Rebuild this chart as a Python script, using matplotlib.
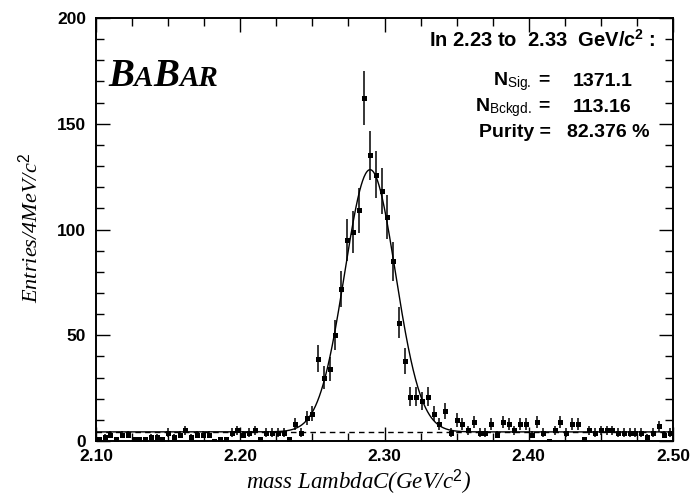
import numpy as np
import matplotlib.pyplot as plt
from matplotlib.ticker import MultipleLocator
from matplotlib.offsetbox import TextArea, HPacker, AnnotationBbox

plt.rcParams['mathtext.fontset'] = 'custom'
plt.rcParams['mathtext.it'] = 'Liberation Serif:italic'
plt.rcParams['mathtext.rm'] = 'Liberation Sans'
plt.rcParams['mathtext.bf'] = 'Liberation Sans:bold'

# histogram: 100 bins of 4 MeV between 2.10 and 2.50 GeV
x_lo, x_hi = 2.10, 2.50
n_bins = 100
counts = [1, 2, 3, 1, 3, 3, 1, 1, 1, 2,
          2, 1, 4, 2, 3, 5, 2, 3, 3, 3,
          0, 1, 1, 4, 5, 3, 4, 5, 1, 4,
          4, 4, 4, 1, 8, 4, 11, 13, 39, 30,
          34, 50, 72, 95, 99, 109, 162, 135, 126, 118,
          106, 85, 56, 38, 21, 21, 19, 21, 13, 8,
          14, 4, 10, 8, 5, 9, 4, 4, 8, 3,
          9, 8, 5, 8, 8, 3, 9, 4, 0, 5,
          9, 4, 8, 8, 1, 5, 4, 5, 5, 5,
          4, 4, 4, 4, 4, 2, 4, 7, 3, 4]

# fit result: gaussian on a flat background
fit_mean = 2.2900
fit_sigma = 0.0176
fit_amp = 124.0
fit_bkg = 4.3

x_ticks = [2.10, 2.20, 2.30, 2.40, 2.50]
x_ticklabels = ['2.10', '2.20', '2.30', '2.40', '2.50']
y_ticks = [0, 50, 100, 150, 200]

range_text = 'In 2.23 to  2.33  GeV/c$^{\\mathbf{2}}$ :'
info_names = ['N$_{\\mathrm{Sig.}}$ =', 'N$_{\\mathrm{Bckgd.}}$ =', 'Purity =']
info_values = ['1371.1', '113.16', '82.376 %']
info_x = [573, 573, 567]


fig = plt.figure(figsize=(6.93, 4.96), dpi=100)
ax = fig.add_axes([96 / 693, 55 / 496, 577 / 693, 423 / 496])

edges = np.linspace(x_lo, x_hi, n_bins + 1)
centers = 0.5 * (edges[:-1] + edges[1:])
counts = np.array(counts, dtype=float)

ax.errorbar(centers, counts, yerr=np.sqrt(counts), fmt='s', ms=3.6, mew=0,
            color='black', ecolor='black', elinewidth=1.1, capsize=0, zorder=3)

xf = np.linspace(x_lo, x_hi, 1200)
yf = fit_bkg + fit_amp * np.exp(-0.5 * ((xf - fit_mean) / fit_sigma) ** 2)
ax.plot([x_lo, x_hi], [fit_bkg, fit_bkg], color='black', lw=1.0, ls=(0, (4, 3)))
ax.plot(xf, yf, color='black', lw=1.0)

ax.set_xlim(x_lo, x_hi)
ax.set_ylim(0, 200)
ax.set_xticks(x_ticks)
ax.set_xticklabels(x_ticklabels)
ax.set_yticks(y_ticks)
ax.xaxis.set_minor_locator(MultipleLocator(0.025))
ax.yaxis.set_minor_locator(MultipleLocator(10))
ax.tick_params(which='both', direction='in', top=True, right=True, width=1.0)
ax.tick_params(which='major', length=10)
ax.tick_params(which='minor', length=6)
ax.tick_params(axis='y', labelsize=12.5, pad=7)
ax.tick_params(axis='x', labelsize=12.5, pad=6)
for lab in ax.get_xticklabels() + ax.get_yticklabels():
    lab.set_fontfamily('Liberation Sans')
    lab.set_fontweight('bold')
for sp in ax.spines.values():
    sp.set_linewidth(1.4)

# axis titles, italic serif
fig.text(359 / 693, 1 - 482 / 496, 'mass LambdaC(GeV/c$^{2}$)', ha='center', va='center',
         fontsize=16.5, family='Liberation Serif', style='italic')
fig.text(30 / 693, 1 - 228 / 496, 'Entries/4MeV/c$^{2}$', ha='center', va='center',
         rotation=90, fontsize=16, family='Liberation Serif', style='italic')

# BaBar logo
big = dict(fontsize=28, family='Liberation Serif', style='italic', weight='bold')
small = dict(fontsize=21, family='Liberation Serif', style='italic', weight='bold')
logo = HPacker(children=[TextArea('B', textprops=big), TextArea('A', textprops=small),
                         TextArea('B', textprops=big), TextArea('AR', textprops=small)],
               align='baseline', pad=0, sep=0)
fig.add_artist(AnnotationBbox(logo, (108 / 693, 1 - 95 / 496), xycoords='figure fraction',
                              box_alignment=(0, 0), frameon=False))

# fit summary text
fig.text(656 / 693, 1 - 40 / 496, range_text, ha='right', va='center',
         fontsize=14.5, family='Liberation Sans', weight='bold')
txt = dict(fontsize=14, family='Liberation Sans', weight='bold')
for i, (name, val) in enumerate(zip(info_names, info_values)):
    yy = 1 - (82 + 25.5 * i) / 496
    fig.text(551 / 693, yy, name, ha='right', va='center', **txt)
    fig.text(info_x[i] / 693, yy, val, ha='left', va='center', **txt)

fig.savefig('out.png', dpi=100)
